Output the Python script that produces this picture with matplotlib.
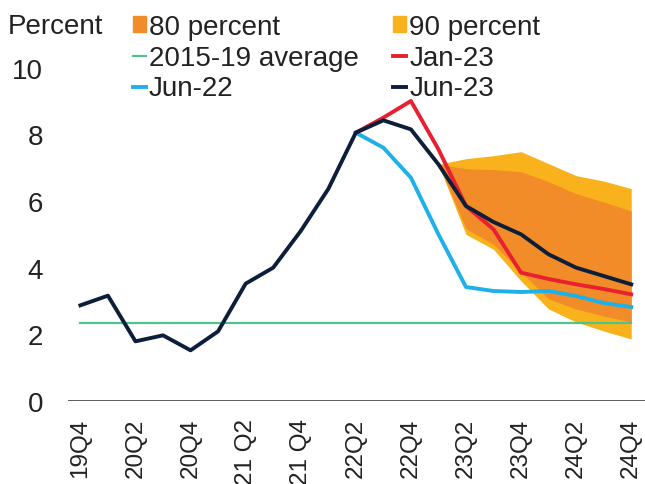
import numpy as np
import matplotlib.pyplot as plt
from matplotlib.patches import Patch
from matplotlib.lines import Line2D

plt.rcParams['font.family'] = ['Liberation Sans', 'DejaVu Sans']

# quarters 19Q4 .. 24Q4
quarters = ["19Q4", "20Q1", "20Q2", "20Q3", "20Q4", "21Q1", "21 Q2", "21Q3",
            "21 Q4", "22Q1", "22Q2", "22Q3", "22Q4", "23Q1", "23Q2", "23Q3",
            "23Q4", "24Q1", "24Q2", "24Q3", "24Q4"]
tick_labels = quarters[::2]

jun23 = [2.87, 3.16, 1.79, 1.97, 1.52, 2.09, 3.52, 4.0, 5.1, 6.36, 8.05,
         8.42, 8.15, 7.1, 5.85, 5.37, 5.0, 4.4, 4.0, 3.75, 3.5]
jan23 = [8.05, 8.5, 9.0, 7.55, 5.85, 5.15, 3.85, 3.66, 3.5, 3.36, 3.2]
jun22 = [8.05, 7.6, 6.7, 5.0, 3.42, 3.3, 3.27, 3.3, 3.15, 2.94, 2.82]
avg_1519 = 2.34

band_hi90 = [7.1, 7.27, 7.36, 7.48, 7.12, 6.76, 6.6, 6.37]
band_hi80 = [7.1, 6.97, 6.94, 6.88, 6.58, 6.22, 5.97, 5.7]
band_lo80 = [7.1, 5.17, 4.7, 3.87, 3.06, 2.76, 2.55, 2.37]
band_lo90 = [7.1, 5.0, 4.55, 3.6, 2.76, 2.37, 2.1, 1.86]

x_all = np.arange(len(quarters))
x_fc = x_all[10:]
x_band = x_all[13:]

c80 = "#f28c28"
c90 = "#f9b21b"
cavg = "#4cc48a"
cjan = "#e8202f"
cjun22 = "#1eb0e8"
cjun23 = "#0d1e3a"

fig = plt.figure(figsize=(6.45, 4.85), dpi=100)
ax = fig.add_axes([68/645, 83/485, 577/645, 350/485])

ax.fill_between(x_band, band_lo90, band_hi90, color=c90, lw=0)
ax.fill_between(x_band, band_lo80, band_hi80, color=c80, lw=0)
ax.plot(x_all, [avg_1519] * len(x_all), color=cavg, lw=1.6)
ax.plot(x_fc, jun22, color=cjun22, lw=2.8)
ax.plot(x_fc, jan23, color=cjan, lw=2.8)
ax.plot(x_all, jun23, color=cjun23, lw=2.8)
ax.axhline(0, color="#4d4d4d", lw=2)

ax.set_xlim(-0.45, 20.5)
ax.set_ylim(0, 10.5)
ax.set_yticks([0, 2, 4, 6, 8, 10])
ax.set_xticks(x_all[::2])
ax.set_xticklabels(tick_labels, rotation=90, fontsize=17.5, color="#222222")
ax.tick_params(axis='y', labelsize=20, length=0, pad=18, labelcolor="#222222")
ax.tick_params(axis='x', length=0, pad=12)
for s in ax.spines.values():
    s.set_visible(False)

fig.text(8/645, 1 - 27/485, "Percent", fontsize=20, va="center", color="#222222")

handles = [Patch(color=c80), Line2D([], [], color=cavg, lw=1.6),
           Line2D([], [], color=cjun22, lw=2.8), Patch(color=c90),
           Line2D([], [], color=cjan, lw=2.8), Line2D([], [], color=cjun23, lw=2.8)]
labels = ["80 percent", "2015-19 average", "Jun-22", "90 percent", "Jan-23", "Jun-23"]
fig.legend(handles, labels, ncol=2, loc="upper left",
           bbox_to_anchor=(133/645, 1 - 15/485), frameon=False, fontsize=20,
           handlelength=0.45, handleheight=0.5, handletextpad=0.12,
           labelspacing=0.17, columnspacing=1.25, borderpad=0, borderaxespad=0,
           labelcolor="#222222")

fig.savefig("out.png", dpi=100)
